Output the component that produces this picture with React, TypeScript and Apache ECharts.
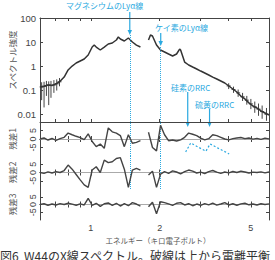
import React, { useEffect, useRef } from "react";
import * as echarts from "echarts";

// ---------- data ----------
const specEnergy = [0.600, 0.625, 0.650, 0.677, 0.705, 0.734, 0.765, 0.796, 0.829, 0.863, 0.899, 0.936, 0.974, 1.014, 1.035, 1.056, 1.100, 1.145, 1.192, 1.241, 1.293, 1.319, 1.346, 1.401, 1.459, 1.519, 1.582, 1.647, 1.715, 1.786, 1.822, 1.859, 1.936, 2.016, 2.099, 2.186, 2.276, 2.369, 2.443, 2.467, 2.569, 2.675, 2.785, 2.900, 3.019, 3.144, 3.273, 3.408, 3.549, 3.695, 3.847, 4.006, 4.171, 4.343, 4.522, 4.709, 4.903, 5.105, 5.315, 5.535, 5.763, 6.000];
const specIntensity: (number | null)[] = [0.14, 0.15, 0.17, 0.16, 0.19, 0.24, 0.36, 0.71, 1.03, 1.38, 1.67, 2.01, 2.95, 6.3, 7.6, 6.3, 4.75, 6.3, 8.4, 9.25, 12.3, 16.4, 13.5, 11.2, 14.9, 10.2, 7.6, 6.3, null, 12.3, 19.8, 18.0, 7.6, 4.75, 3.93, 3.24, 2.68, 3.24, 5.2, 4.75, 1.51, 1.14, 0.94, 0.78, 0.64, 0.53, 0.44, 0.36, 0.30, 0.248, 0.205, 0.154, 0.116, 0.087, 0.059, 0.045, 0.031, 0.023, 0.019, 0.0143, 0.0118, 0.0097];

const errEnergy = [0.61, 0.625, 0.64, 0.655, 0.67, 0.69, 0.71, 0.73, 4.0, 4.2, 4.4, 4.6, 4.8, 5.0, 5.2, 5.4, 5.6, 5.85];
const errMid = [0.14, 0.15, 0.16, 0.17, 0.165, 0.17, 0.19, 0.23, 0.155, 0.11, 0.08, 0.055, 0.04, 0.028, 0.021, 0.017, 0.0135, 0.0105];
const errLow = [0.04, 0.02, 0.06, 0.025, 0.05, 0.08, 0.1, 0.15, 0.115, 0.08, 0.055, 0.037, 0.026, 0.017, 0.012, 0.009, 0.0068, 0.0056];
const errHigh = [0.22, 0.23, 0.25, 0.24, 0.25, 0.27, 0.29, 0.33, 0.2, 0.145, 0.11, 0.08, 0.06, 0.045, 0.035, 0.029, 0.024, 0.019];

const resEnergy = [0.600, 0.625, 0.650, 0.677, 0.705, 0.734, 0.765, 0.796, 0.829, 0.863, 0.899, 0.936, 0.974, 1.014, 1.056, 1.100, 1.145, 1.192, 1.241, 1.293, 1.346, 1.401, 1.459, 1.519, 1.582, 1.647, 1.715, 1.786, 1.859, 1.936, 2.016, 2.099, 2.186, 2.276, 2.369, 2.467, 2.569, 2.675, 2.785, 2.900, 3.019, 3.144, 3.273, 3.408, 3.549, 3.695, 3.847, 4.006, 4.171, 4.343, 4.522, 4.709, 4.903, 5.105, 5.315, 5.535, 5.763, 6.000];
const residual1: (number | null)[] = [0, 0.6, -0.6, 0.3, -0.8, 0.2, 1.0, 3.5, 2.5, 1.6, 0.8, -0.4, 3.0, -1.5, -4.5, -3.0, -5.5, 6.5, 4.2, 3.5, 2.0, -4.5, 2.5, -2.5, -2.0, -1.0, null, 4.0, -5.0, -7.0, 8.0, 2.5, -1.0, -0.6, -1.2, -0.5, 1.0, 3.5, 2.8, 2.0, 0.5, -0.5, 0.2, 2.5, 2.0, 1.0, 0.0, -0.5, 0.2, 0.6, 0.9, 0.2, 0.6, -0.1, 0.4, -0.2, 0.5, 0.1];
const residual2: (number | null)[] = [0, -0.5, 0.4, -0.3, 0.5, 0.0, 1.2, 4.5, 2.0, -1.2, -4.5, -7.5, -9.0, 1.5, 3.5, 0.0, 7.5, 6.0, 6.5, 8.5, 9.0, 2.0, -9.0, 1.5, 2.5, 1.5, null, -1.5, 0.8, -9.0, -1.0, 0.5, -0.5, 1.0, 0.3, -0.8, 0.5, 1.5, 0.8, -0.3, 0.2, -0.6, 0.5, 1.2, 0.2, -0.5, 0.3, -0.2, 0.6, 0.0, 0.8, 0.3, -0.3, 0.2, 0.0, 0.4, -0.2, 0.3];
const residual3: (number | null)[] = [0, 0.5, -0.5, 0.3, -0.3, 0.6, 0.0, 0.8, 0.2, -0.5, 0.4, -0.3, 4.0, -0.5, 0.8, -1.2, 0.5, 1.0, -0.5, 0.8, -1.0, 0.5, -0.8, 1.2, 0.3, -1.0, null, -1.5, 1.5, -6.0, 1.8, 1.2, 0.4, -0.6, 0.8, 1.2, -0.3, 0.5, -0.8, 0.3, -0.5, 0.6, -0.2, 0.9, -0.4, 0.3, 1.2, -0.3, 0.5, -0.5, 0.4, 0.8, -0.2, 0.3, -0.3, 0.5, 0.0, 0.4];

const rrcEnergy = [2.595, 2.73, 3.18, 3.32, 4.02];
const rrcModel = [-7.6, -2.35, -7.2, -2.9, -8.8];

const xTickValues = [0.6, 0.7, 0.8, 0.9, 1, 2, 3, 4, 5, 6];
const xLabelValues = [1, 2, 5];
const yTickValues = [0.01, 0.1, 1, 10, 100];
const resTickValues = [-5, 0, 5];

const mgLyaEnergy = 1.48;
const siLyaEnergy = 2.02;
const siRrcEnergy = 2.65;
const sRrcEnergy = 3.3;
const mgLineTop = 19.8;
const siLineTop = 6.3;

const resTitles = ["残差1", "残差2", "残差3"];

// ---------- styles ----------
const CYAN = "#2aa9e0";
const AXIS = "#444";
const NUMFONT = "Liberation Sans Narrow, Liberation Sans, sans-serif";
const JPFONT = "Noto Sans CJK JP, sans-serif";

function xAxisDef(gridIndex: number, position: string, showLabel: boolean) {
  return {
    type: "log",
    logBase: 10,
    gridIndex,
    position,
    min: 0.6,
    max: 6,
    axisLine: { show: true, lineStyle: { color: AXIS, width: 1 } },
    axisTick: { show: true, inside: true, length: 3, customValues: xTickValues, lineStyle: { color: AXIS } },
    axisLabel: { show: showLabel, customValues: xLabelValues, margin: 3, fontSize: 9, color: AXIS, fontFamily: NUMFONT, formatter: (v: number) => String(v) },
    splitLine: { show: false },
    minorTick: { show: false },
  };
}

function resYAxis(gridIndex: number, position: string, showLabel: boolean) {
  return {
    type: "value",
    gridIndex,
    position,
    min: -10,
    max: 10,
    interval: 5,
    axisLine: { show: true, lineStyle: { color: AXIS, width: 1 } },
    axisTick: { show: true, inside: true, length: 3, customValues: resTickValues, lineStyle: { color: AXIS } },
    axisLabel: { show: showLabel, customValues: resTickValues, rotate: 90, margin: 3, fontSize: 9, color: AXIS, fontFamily: NUMFONT },
    splitLine: { show: false },
  };
}

export default function App() {
  const ref = useRef<HTMLDivElement>(null);
  useEffect(() => {
    if (!ref.current) return;
    const chart = echarts.init(ref.current, null, { renderer: "svg" });

    const grids = [
      { left: 40, right: 6, top: 18, height: 104 },
      { left: 40, right: 6, top: 122, height: 34 },
      { left: 40, right: 6, top: 156, height: 33 },
      { left: 40, right: 6, top: 189, height: 31 },
    ].map((g) => ({ ...g, containLabel: false, outerBoundsMode: "none" }));

    const xAxes: any[] = [];
    const yAxes: any[] = [];
    for (let i = 0; i < 4; i++) {
      xAxes.push(xAxisDef(i, "bottom", i === 3));
      xAxes.push(xAxisDef(i, "top", false));
    }
    yAxes.push({
      type: "log",
      logBase: 10,
      gridIndex: 0,
      position: "left",
      min: 0.005,
      max: 100,
      axisLine: { show: true, lineStyle: { color: AXIS, width: 1 } },
      axisTick: { show: true, inside: true, length: 3, customValues: yTickValues, lineStyle: { color: AXIS } },
      axisLabel: { show: true, customValues: yTickValues, margin: 4, fontSize: 9.5, color: AXIS, fontFamily: NUMFONT, formatter: (v: number) => String(v) },
      splitLine: { show: false },
      minorTick: { show: false },
    });
    yAxes.push({
      type: "log",
      logBase: 10,
      gridIndex: 0,
      position: "right",
      min: 0.005,
      max: 100,
      axisLine: { show: true, lineStyle: { color: AXIS, width: 1 } },
      axisTick: { show: true, inside: true, length: 3, customValues: yTickValues, lineStyle: { color: AXIS } },
      axisLabel: { show: false },
      splitLine: { show: false },
      minorTick: { show: false },
    });
    for (let i = 1; i < 4; i++) {
      yAxes.push(resYAxis(i, "left", true));
      yAxes.push(resYAxis(i, "right", false));
    }

    const dotted = { color: CYAN, type: "dotted", width: 1 };
    const zeroLine = { color: "#aaa", type: "solid", width: 1 };
    const resSeries = [residual1, residual2, residual3].map((vals, i) => ({
      type: "line",
      xAxisIndex: 2 * (i + 1),
      yAxisIndex: 2 * (i + 1),
      data: resEnergy.map((e, j) => [e, vals[j]]),
      showSymbol: false,
      connectNulls: false,
      lineStyle: { color: "#444", width: 1.4 },
      z: 3,
      markLine: {
        silent: true,
        symbol: "none",
        label: { show: false },
        z: 2,
        data:
          i < 2
            ? [
                { yAxis: 0, lineStyle: zeroLine },
                { xAxis: mgLyaEnergy, lineStyle: dotted },
                { xAxis: siLyaEnergy, lineStyle: dotted },
              ]
            : [{ yAxis: 0, lineStyle: zeroLine }],
      },
    }));

    const option: any = {
      animation: false,
      backgroundColor: "#fff",
      grid: grids,
      xAxis: xAxes,
      yAxis: yAxes,
      series: [
        {
          type: "line",
          xAxisIndex: 0,
          yAxisIndex: 0,
          data: specEnergy.map((e, i) => [e, specIntensity[i]]),
          showSymbol: false,
          connectNulls: false,
          lineStyle: { color: "#333", width: 1.5 },
          markLine: {
            silent: true,
            symbol: "none",
            label: { show: false },
            lineStyle: dotted,
            data: [
              [{ coord: [mgLyaEnergy, mgLineTop] }, { coord: [mgLyaEnergy, 0.0051] }],
              [{ coord: [siLyaEnergy, siLineTop] }, { coord: [siLyaEnergy, 0.0051] }],
            ],
          },
        },
        {
          type: "custom",
          xAxisIndex: 0,
          yAxisIndex: 0,
          data: errEnergy.map((e, i) => [e, errLow[i], errHigh[i], errMid[i]]),
          encode: { x: 0, y: [1, 2, 3] },
          renderItem: (_p: any, api: any) => {
            const e = api.value(0);
            const lo = api.coord([e, api.value(1)]);
            const hi = api.coord([e, api.value(2)]);
            const mid = api.coord([e, api.value(3)]);
            const st = { stroke: "#444", lineWidth: 1 };
            return {
              type: "group",
              children: [
                { type: "line", shape: { x1: lo[0], y1: lo[1], x2: hi[0], y2: hi[1] }, style: st },
                { type: "line", shape: { x1: mid[0] - 2, y1: mid[1], x2: mid[0] + 2, y2: mid[1] }, style: st },
              ],
            };
          },
        },
        ...resSeries,
        {
          type: "line",
          xAxisIndex: 2,
          yAxisIndex: 2,
          data: rrcEnergy.map((e, i) => [e, rrcModel[i]]),
          showSymbol: false,
          lineStyle: { color: CYAN, type: [2, 2], width: 1.2 },
          z: 4,
        },
      ],
    };
    chart.setOption(option);

    const px = (e: number) => chart.convertToPixel({ xAxisIndex: 0 }, e) as unknown as number;
    const arrow = (x: number, y1: number, y2: number) => [
      { type: "line", shape: { x1: x, y1, x2: x, y2: y2 - 3 }, style: { stroke: CYAN, lineWidth: 1.2 } },
      { type: "polygon", shape: { points: [[x - 2.2, y2 - 5], [x + 2.2, y2 - 5], [x, y2]] }, style: { fill: CYAN } },
    ];
    const label = (text: string, x: number, y: number) => ({
      type: "text",
      x,
      y,
      style: { text, fill: CYAN, fontSize: 8, fontFamily: JPFONT, align: "left", verticalAlign: "middle" },
    });
    const vTitle = (text: string, x: number, y: number, size: number) => ({
      type: "text",
      x,
      y,
      rotation: Math.PI / 2,
      style: { text, fill: "#555", fontSize: size, fontFamily: JPFONT, align: "center", verticalAlign: "middle" },
    });
    const resCenters = [139, 172.5, 204.5];

    const graphic: any[] = [
      label("マグネシウムのLyα線", 66, 5),
      ...arrow(px(mgLyaEnergy), 12, 35),
      label("ケイ素のLyα線", 155, 27),
      ...arrow(px(siLyaEnergy), 33, 46),
      label("硅素のRRC", 171, 87),
      ...arrow(px(siRrcEnergy), 92, 127),
      label("硫黄のRRC", 195, 104),
      ...arrow(px(sRrcEnergy), 109, 127),
      vTitle("スペクトル強度", 12, 60, 8.5),
      ...resTitles.map((t, i) => vTitle(t, 12, resCenters[i], 8.5)),
      {
        type: "text",
        x: 158,
        y: 240,
        style: { text: "エネルギー（キロ電子ボルト）", fill: "#555", fontSize: 7.5, fontFamily: JPFONT, align: "center", verticalAlign: "middle" },
      },
      {
        type: "text",
        x: 0,
        y: 249,
        style: { text: "図6  W44のX線スペクトル。破線は上から電離平衡", fill: "#333", fontSize: 12, fontFamily: JPFONT, align: "left", verticalAlign: "top" },
      },
    ];
    chart.setOption({ graphic });

    return () => chart.dispose();
  }, []);
  return <div ref={ref} style={{ position: "fixed", left: 0, top: 0, width: 275, height: 260, background: "#fff" }} />;
}
